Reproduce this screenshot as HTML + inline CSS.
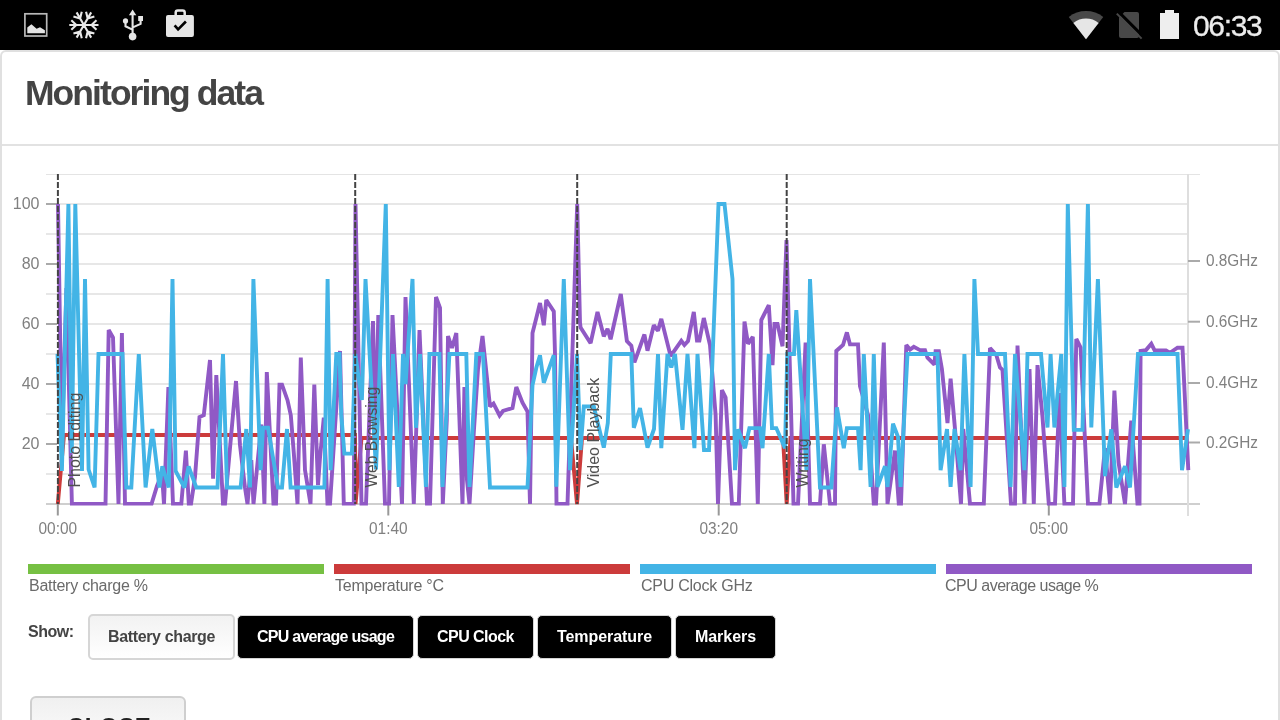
<!DOCTYPE html>
<html><head><meta charset="utf-8"><title>Monitoring data</title>
<style>
html,body{margin:0;padding:0;width:1280px;height:720px;overflow:hidden;background:#fff;font-family:"Liberation Sans",sans-serif;}
body>div,svg{will-change:transform;}
#status{position:absolute;left:0;top:0;width:1280px;height:50px;background:#000;}
#card{position:absolute;left:0;top:50px;width:1280px;height:700px;box-sizing:border-box;border:2px solid #e0e0e0;border-radius:6px;background:#fff;}
#title{position:absolute;left:24.8px;top:71.4px;font-size:35.5px;font-weight:bold;color:#444;letter-spacing:-1.95px;line-height:44px;white-space:nowrap;}
#sep{position:absolute;left:2px;top:144px;width:1276px;height:2px;background:#e2e2e2;}
#clock{position:absolute;left:1193px;top:9px;font-size:30px;color:#ececec;line-height:34px;letter-spacing:-1.35px;-webkit-text-stroke:0.3px #ececec;}
svg{position:absolute;left:0;top:0;}
.mk{font-size:16px;fill:#505050;font-family:"Liberation Sans",sans-serif;}
.ax{font-size:16px;fill:#808080;font-family:"Liberation Sans",sans-serif;}
.lg{position:absolute;top:576.6px;font-size:16px;color:#6a6a6a;line-height:18px;white-space:nowrap;letter-spacing:-0.25px}
.bar{position:absolute;top:564px;height:10px;}
#show{position:absolute;left:28.4px;top:622px;font-size:16px;font-weight:bold;color:#444;line-height:20px;letter-spacing:-0.5px}
.btn{position:absolute;top:615px;height:44px;box-sizing:border-box;border:1.5px solid #d4d4d4;border-radius:5px;background:#000;color:#fff;font-weight:bold;font-size:16px;line-height:41px;text-align:center;letter-spacing:-0.35px;white-space:nowrap;}
.btn.off{background:linear-gradient(#f2f2f2,#fff);color:#444;top:614px;height:46px;border:2px solid #d6d6d6;line-height:42px;}
#close{position:absolute;left:30px;top:696px;width:156px;height:60px;box-sizing:border-box;border:2px solid #cfcfcf;border-radius:6px;background:linear-gradient(#f0f0f0,#fafafa 40px);}
#closet{position:absolute;left:66.7px;top:715.4px;color:#222;font-weight:bold;font-size:24px;line-height:24px;letter-spacing:0.3px;white-space:nowrap}
</style></head><body>
<div id="status"></div>
<svg width="1280" height="50" viewBox="0 0 1280 50" style="position:absolute;left:0;top:0">
<rect x="24.9" y="13.8" width="21.8" height="22.2" fill="none" stroke="#b8b8b8" stroke-width="1.7"/>
<path d="M27.3 33.3 L27.3 27.4 L31.4 24.2 L36.6 28.8 L40 27.2 L44.9 30.3 L44.9 33.3 Z" fill="#e4e4e4"/>
<path d="M83.90 25.00 L98.50 25.00 M91.50 25.00 L96.50 29.80 M91.50 25.00 L96.50 20.20 M83.90 25.00 L91.20 37.64 M87.70 31.58 L86.04 38.31 M87.70 31.58 L94.36 33.51 M83.90 25.00 L76.60 37.64 M80.10 31.58 L73.44 33.51 M80.10 31.58 L81.76 38.31 M83.90 25.00 L69.30 25.00 M76.30 25.00 L71.30 20.20 M76.30 25.00 L71.30 29.80 M83.90 25.00 L76.60 12.36 M80.10 18.42 L81.76 11.69 M80.10 18.42 L73.44 16.49 M83.90 25.00 L91.20 12.36 M87.70 18.42 L94.36 16.49 M87.70 18.42 L86.04 11.69" stroke="#e8e8e8" stroke-width="2.1" fill="none" stroke-linecap="butt"/>
<g fill="#e6e6e6" stroke="none"><circle cx="132.6" cy="36.6" r="3.8"/><path d="M132.6 9.6 L136.3 15.3 L128.9 15.3 Z"/><circle cx="125.5" cy="20.9" r="2.6"/><rect x="138.2" y="16" width="4.8" height="5"/></g>
<path d="M132.6 14 L132.6 36 M125.5 21 L125.5 26.3 L132.4 29.6 M140.6 20 L140.6 23.9 L132.8 27.4" stroke="#e6e6e6" stroke-width="2.1" fill="none"/>
<rect x="166" y="15.1" width="27.9" height="21.8" rx="2" fill="#e6e6e6"/>
<path d="M175.7 16 L175.7 12.6 Q175.7 10.5 177.8 10.5 L182.6 10.5 Q184.7 10.5 184.7 12.6 L184.7 16" fill="none" stroke="#e6e6e6" stroke-width="2.5"/>
<path d="M174.6 25.4 L178.1 29.4 L185.9 21.5" fill="none" stroke="#000" stroke-width="2.6"/>
<path d="M1086.0 39.2 L1068.75 16.89 A28.2 28.2 0 0 1 1103.25 16.89 Z" fill="#484848"/>
<path d="M1086.0 39.2 L1073.40 22.90 A20.6 20.6 0 0 1 1098.60 22.90 Z" fill="#e6e6e6"/>
<path d="M1124.5 12 L1137 12 Q1139 12 1139 14 L1139 36 Q1139 38 1137 38 L1121 38 Q1119 38 1119 36 L1119 17.5 Z" fill="#484848"/>
<path d="M1118.3 11.6 L1143.3 36.6" stroke="#000" stroke-width="3" fill="none"/>
<path d="M1116.8 13.6 L1141.6 38.6" stroke="#484848" stroke-width="2" fill="none"/>
<path d="M1160 13 L1165 13 L1165 10 L1174 10 L1174 13 L1179 13 L1179 39 L1160 39 Z" fill="#eeeeee"/>
</svg><div id="card"></div>
<div id="title">Monitoring data</div>
<div id="sep"></div>
<div id="clock">06:33</div>
<svg width="1280" height="720" viewBox="0 0 1280 720">
<g stroke="#e7e7e7" stroke-width="2">
<line x1="46" y1="474" x2="1188" y2="474"/>
<line x1="46" y1="444" x2="1188" y2="444"/>
<line x1="46" y1="414" x2="1188" y2="414"/>
<line x1="46" y1="384" x2="1188" y2="384"/>
<line x1="46" y1="354" x2="1188" y2="354"/>
<line x1="46" y1="324" x2="1188" y2="324"/>
<line x1="46" y1="294" x2="1188" y2="294"/>
<line x1="46" y1="264" x2="1188" y2="264"/>
<line x1="46" y1="234" x2="1188" y2="234"/>
<line x1="46" y1="204" x2="1188" y2="204"/>
</g>
<line x1="46" y1="174.5" x2="1200" y2="174.5" stroke="#e4e4e4" stroke-width="1"/>
<line x1="46" y1="504" x2="1200" y2="504" stroke="#cfcfcf" stroke-width="2"/>
<line x1="1188" y1="174" x2="1188" y2="516" stroke="#dedede" stroke-width="2"/>
<g stroke="#aaaaaa" stroke-width="2">
<line x1="46" y1="444" x2="57" y2="444"/>
<line x1="46" y1="384" x2="57" y2="384"/>
<line x1="46" y1="324" x2="57" y2="324"/>
<line x1="46" y1="264" x2="57" y2="264"/>
<line x1="46" y1="204" x2="57" y2="204"/>
<line x1="1188" y1="261" x2="1200" y2="261"/>
<line x1="1188" y1="321.7" x2="1200" y2="321.7"/>
<line x1="1188" y1="383" x2="1200" y2="383"/>
<line x1="1188" y1="442.5" x2="1200" y2="442.5"/>
<line x1="57.8" y1="504" x2="57.8" y2="515.5" stroke="#999"/>
<line x1="388.3" y1="504" x2="388.3" y2="515.5" stroke="#999"/>
<line x1="718.7" y1="504" x2="718.7" y2="515.5" stroke="#999"/>
<line x1="1048.8" y1="504" x2="1048.8" y2="515.5" stroke="#999"/>
</g>
<text class="ax" x="39.5" y="449" text-anchor="end">20</text>
<text class="ax" x="39.5" y="389" text-anchor="end">40</text>
<text class="ax" x="39.5" y="329" text-anchor="end">60</text>
<text class="ax" x="39.5" y="269" text-anchor="end">80</text>
<text class="ax" x="39.5" y="209" text-anchor="end">100</text>
<text class="ax" x="1206" y="266.3" textLength="52" lengthAdjust="spacingAndGlyphs">0.8GHz</text>
<text class="ax" x="1206" y="327.0" textLength="52" lengthAdjust="spacingAndGlyphs">0.6GHz</text>
<text class="ax" x="1206" y="388.3" textLength="52" lengthAdjust="spacingAndGlyphs">0.4GHz</text>
<text class="ax" x="1206" y="447.8" textLength="52" lengthAdjust="spacingAndGlyphs">0.2GHz</text>
<text class="ax" x="57.8" y="534" text-anchor="middle" textLength="38.6" lengthAdjust="spacingAndGlyphs">00:00</text>
<text class="ax" x="388.3" y="534" text-anchor="middle" textLength="38.6" lengthAdjust="spacingAndGlyphs">01:40</text>
<text class="ax" x="718.7" y="534" text-anchor="middle" textLength="38.6" lengthAdjust="spacingAndGlyphs">03:20</text>
<text class="ax" x="1048.8" y="534" text-anchor="middle" textLength="38.6" lengthAdjust="spacingAndGlyphs">05:00</text>
<clipPath id="cp"><rect x="46" y="174" width="1160" height="331.5"/></clipPath>
<g clip-path="url(#cp)">
<polyline points="57.8,504.0 64.0,435.0 355.0,435.0 355.5,504.0 361.5,438.0 571.0,438.0 577.0,504.0 582.0,438.0 783.0,438.0 786.7,504.0 790.5,438.0 1188.0,438.0" fill="none" stroke="#cc3b3b" stroke-width="3.9" stroke-linejoin="miter" stroke-miterlimit="2"/>
<polyline points="58.0,204.0 61.9,444.0 66.4,288.0 71.9,504.0 105.5,504.0 108.7,330.0 113.0,337.5 118.5,504.0 121.9,333.0 125.0,504.0 151.5,504.0 157.0,486.0 162.0,474.0 164.0,504.0 168.4,387.0 173.0,504.0 181.3,504.0 185.9,450.6 188.8,504.0 191.0,504.0 195.0,477.0 199.5,417.0 203.8,415.2 210.0,360.0 213.1,478.8 216.3,375.0 223.0,504.0 225.0,504.0 236.0,381.0 240.0,445.2 245.0,487.8 247.5,504.0 251.3,460.2 253.5,504.0 261.3,424.5 264.4,504.0 266.8,372.0 273.5,504.0 276.0,504.0 279.5,384.6 282.0,384.6 287.5,400.2 290.8,415.2 293.8,453.0 297.5,504.0 300.8,357.6 305.0,470.1 310.5,504.0 314.3,384.6 318.0,485.1 320.0,457.8 323.8,417.6 327.5,504.0 330.0,504.0 340.0,351.0 343.8,504.0 353.8,504.0 355.5,204.0 361.5,504.0 366.0,504.0 373.0,321.0 375.5,444.0 378.3,315.0 385.0,504.0 389.0,504.0 392.5,315.0 402.0,504.0 405.5,297.0 413.8,504.0 419.5,330.0 427.0,504.0 430.0,504.0 436.0,297.0 440.0,307.8 442.8,504.0 446.8,420.0 448.0,336.0 452.0,348.0 456.3,333.0 462.5,504.0 464.4,387.0 467.0,480.0 469.5,504.0 474.0,429.0 478.0,369.0 482.5,336.0 486.0,369.0 490.0,406.5 493.5,403.5 499.6,415.5 503.0,411.0 512.5,408.0 516.3,387.0 522.5,402.6 527.5,411.6 530.0,504.0 532.5,333.0 536.3,318.0 540.0,303.0 543.8,325.2 546.3,300.0 553.8,311.4 555.0,354.0 556.5,504.0 567.5,504.0 577.2,204.0 580.0,322.8 580.6,327.6 590.6,343.2 597.5,312.0 603.8,336.3 607.5,328.8 610.6,339.3 620.8,294.0 626.9,341.1 631.3,345.6 634.4,362.4 644.4,334.5 647.5,350.7 653.8,325.2 656.3,328.8 658.0,330.6 661.3,318.9 670.6,356.1 681.3,340.8 684.4,345.0 688.0,341.1 693.8,312.0 697.0,340.5 699.4,340.5 703.8,318.0 710.0,345.0 715.6,414.9 718.0,504.0 721.9,390.0 725.6,397.5 732.0,504.0 738.8,504.0 744.5,321.6 748.0,343.8 752.8,336.9 757.8,504.0 761.3,320.1 768.8,305.1 772.5,365.1 774.5,324.0 777.5,324.0 782.5,346.2 786.5,240.0 793.5,504.0 798.0,504.0 805.6,342.6 810.0,504.0 820.0,504.0 823.8,444.3 830.0,504.0 835.0,504.0 836.3,351.0 843.0,345.0 846.9,332.4 850.0,344.4 858.0,344.4 860.0,386.1 868.0,414.9 873.8,504.0 876.0,504.0 883.8,342.6 887.5,504.0 895.0,450.6 898.8,504.0 901.0,504.0 906.3,345.0 910.0,349.5 913.8,346.8 920.0,350.1 925.0,350.1 927.5,357.6 934.4,364.5 935.6,351.3 938.8,351.3 941.9,369.0 947.5,423.0 950.6,378.6 955.0,429.0 961.0,504.0 963.3,429.0 970.0,504.0 983.8,504.0 990.0,348.0 996.3,354.9 1000.0,367.5 1002.5,369.9 1011.0,504.0 1015.0,504.0 1017.5,345.6 1024.4,504.0 1029.5,369.0 1033.8,504.0 1037.5,365.1 1042.5,417.0 1048.8,504.0 1055.0,504.0 1059.5,393.0 1064.4,504.0 1073.0,504.0 1076.3,339.0 1080.6,347.4 1088.0,504.0 1099.4,504.0 1105.0,448.2 1110.0,504.0 1114.4,390.6 1118.5,462.0 1125.0,504.0 1131.3,420.6 1137.5,504.0 1139.5,504.0 1140.6,351.0 1146.0,350.1 1151.3,343.8 1154.6,350.4 1166.0,350.4 1170.0,352.8 1177.5,347.7 1182.5,347.7 1188.3,470.1" fill="none" stroke="#9059c5" stroke-width="3.9" stroke-linejoin="miter" stroke-miterlimit="2"/>
<polyline points="57.5,354.0 61.9,471.0 68.4,204.0 71.8,453.0 75.3,204.0 82.0,471.0 85.0,279.0 88.6,469.5 94.6,487.5 98.5,354.0 122.5,354.0 126.3,487.5 131.3,487.5 138.8,354.0 145.6,487.5 152.3,429.0 159.4,487.5 162.3,466.2 168.8,487.5 172.5,279.0 175.6,471.0 184.4,487.5 188.6,466.5 196.3,487.5 217.5,487.5 223.0,354.0 227.0,487.5 240.6,487.5 246.3,429.0 250.0,487.5 253.4,279.0 260.6,470.1 263.0,427.8 268.0,427.8 278.0,487.5 282.0,487.5 287.0,429.0 290.6,487.5 324.4,487.5 327.6,279.0 330.6,470.1 336.3,354.0 339.5,354.0 341.3,414.9 344.4,453.6 351.9,453.6 355.2,354.0 361.9,399.9 365.5,279.0 376.0,469.5 385.8,204.0 389.4,470.1 393.0,354.0 398.8,486.9 403.0,354.0 405.6,384.0 412.5,279.0 416.0,427.8 420.0,354.0 425.9,486.9 429.4,354.0 439.4,354.0 442.5,486.9 449.4,354.0 466.3,354.0 469.5,486.9 476.3,354.0 483.0,354.0 490.0,487.5 527.5,487.5 532.5,385.2 536.3,367.8 540.0,355.2 543.8,382.8 553.8,355.2 556.3,486.6 563.8,279.0 570.0,470.1 577.0,354.0 580.5,450.0 583.8,406.5 593.8,406.5 603.8,447.6 607.8,423.0 610.8,354.0 631.3,354.0 633.8,427.8 640.0,408.0 647.5,447.6 654.0,429.0 658.0,354.0 661.3,448.2 667.5,354.0 671.3,367.5 675.0,354.0 682.5,429.9 687.5,354.0 694.4,448.2 697.5,354.0 704.0,450.0 709.0,450.0 718.5,204.0 724.5,204.0 732.5,279.0 735.0,470.1 738.0,429.3 745.0,448.2 749.4,428.1 760.0,428.1 762.5,448.2 768.8,354.0 772.0,428.1 776.3,428.1 785.0,448.2 787.3,354.0 794.0,354.0 796.3,310.2 806.5,470.1 810.0,279.0 820.0,487.5 831.3,487.5 836.9,407.4 843.8,448.2 846.9,428.1 858.0,428.1 860.6,470.1 863.8,354.0 870.6,486.9 873.8,354.0 877.5,486.9 885.0,466.2 887.5,486.9 893.0,423.6 898.0,436.8 900.6,486.9 907.5,354.0 937.5,354.0 940.6,470.1 947.0,429.0 950.6,486.9 954.5,429.0 960.6,470.1 964.4,354.0 970.6,486.9 974.4,279.0 978.0,354.0 1005.0,354.0 1010.6,486.9 1015.0,354.0 1024.4,470.1 1027.5,354.0 1041.0,354.0 1047.5,427.5 1050.6,354.0 1054.4,427.5 1061.3,354.0 1064.4,486.9 1067.8,204.0 1073.8,429.9 1082.5,429.9 1087.9,204.0 1091.3,427.5 1097.9,279.0 1105.0,476.1 1111.3,429.3 1116.3,487.5 1125.0,466.2 1130.0,487.5 1138.0,354.0 1177.5,354.0 1182.0,470.1 1188.0,429.3" fill="none" stroke="#43b4e6" stroke-width="3.9" stroke-linejoin="miter" stroke-miterlimit="2"/>
</g>
<line x1="57.9" y1="174" x2="57.9" y2="504" stroke="#444" stroke-width="2" stroke-dasharray="6 2"/>
<text class="mk" transform="translate(79.5,487.6) rotate(-90)" textLength="95" lengthAdjust="spacingAndGlyphs">Photo Editing</text>
<line x1="355.2" y1="174" x2="355.2" y2="504" stroke="#444" stroke-width="2" stroke-dasharray="6 2"/>
<text class="mk" transform="translate(376.8,487.6) rotate(-90)" textLength="100.8" lengthAdjust="spacingAndGlyphs">Web Browsing</text>
<line x1="577.2" y1="174" x2="577.2" y2="504" stroke="#444" stroke-width="2" stroke-dasharray="6 2"/>
<text class="mk" transform="translate(598.8000000000001,487.6) rotate(-90)" textLength="109.8" lengthAdjust="spacingAndGlyphs">Video Playback</text>
<line x1="786.7" y1="174" x2="786.7" y2="504" stroke="#444" stroke-width="2" stroke-dasharray="6 2"/>
<text class="mk" transform="translate(808.3000000000001,487.6) rotate(-90)" textLength="49.3" lengthAdjust="spacingAndGlyphs">Writing</text>
</svg>
<div class="bar" style="left:28px;width:296px;background:#76c043"></div>
<div class="bar" style="left:334px;width:296px;background:#cc3b3b"></div>
<div class="bar" style="left:640px;width:296px;background:#43b4e6"></div>
<div class="bar" style="left:946px;width:306px;background:#9059c5"></div>
<div class="lg" style="left:29px">Battery charge %</div>
<div class="lg" style="left:335px">Temperature °C</div>
<div class="lg" style="left:641px">CPU Clock GHz</div>
<div class="lg" style="left:945px;letter-spacing:-0.5px">CPU average usage %</div>
<div id="show">Show:</div>
<div class="btn off" style="left:88px;width:147px">Battery charge</div>
<div class="btn" style="left:237px;width:177px;letter-spacing:-0.72px">CPU average usage</div>
<div class="btn" style="left:417px;width:117px;letter-spacing:-0.55px">CPU Clock</div>
<div class="btn" style="left:537px;width:135px;letter-spacing:-0.05px">Temperature</div>
<div class="btn" style="left:675px;width:101px;letter-spacing:-0.05px">Markers</div>
<div id="close"></div><div id="closet">CLOSE</div>
</body></html>
